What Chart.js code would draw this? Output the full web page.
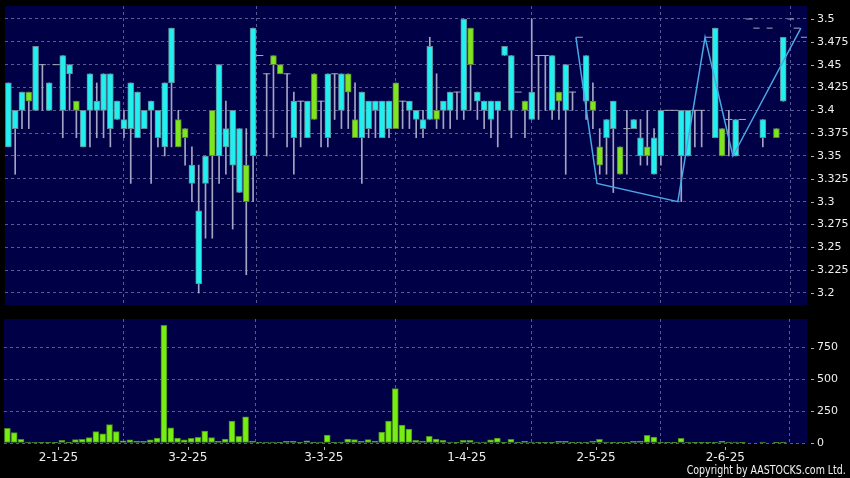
<!DOCTYPE html>
<html><head><meta charset="utf-8">
<script src="https://cdn.jsdelivr.net/npm/chart.js@4.4.1/dist/chart.umd.min.js"></script>
<style>
html,body{margin:0;padding:0;background:#000;width:850px;height:478px;overflow:hidden;}
#main{position:absolute;left:0;top:0;}
#vol{position:absolute;left:0;top:312px;}
#copy{position:absolute;right:4px;top:463px;color:#f2f2f2;font-family:"DejaVu Sans Condensed","DejaVu Sans",sans-serif;font-size:12px;line-height:14px;white-space:nowrap;transform:scaleX(0.875);transform-origin:right top;}
</style></head><body>
<canvas id="main" width="850" height="312"></canvas>
<canvas id="vol" width="850" height="166"></canvas>
<div id="copy">Copyright by AASTOCKS.com Ltd.</div>
<script>
// ---------- data ----------
const dates = [
 '18-12-24','19-12-24','20-12-24','23-12-24','24-12-24','27-12-24','30-12-24','31-12-24',
 '2-1-25','3-1-25','6-1-25','7-1-25','8-1-25','9-1-25','10-1-25','13-1-25','14-1-25','15-1-25','16-1-25','17-1-25','20-1-25','21-1-25','22-1-25','23-1-25','24-1-25','27-1-25','28-1-25',
 '3-2-25','4-2-25','5-2-25','6-2-25','7-2-25','10-2-25','11-2-25','12-2-25','13-2-25','14-2-25','17-2-25','18-2-25','19-2-25','20-2-25','21-2-25','24-2-25','25-2-25','26-2-25','27-2-25','28-2-25',
 '3-3-25','4-3-25','5-3-25','6-3-25','7-3-25','10-3-25','11-3-25','12-3-25','13-3-25','14-3-25','17-3-25','18-3-25','19-3-25','20-3-25','21-3-25','24-3-25','25-3-25','26-3-25','27-3-25','28-3-25','31-3-25',
 '1-4-25','2-4-25','3-4-25','7-4-25','8-4-25','9-4-25','10-4-25','11-4-25','14-4-25','15-4-25','16-4-25','17-4-25','22-4-25','23-4-25','24-4-25','25-4-25','28-4-25','29-4-25','30-4-25',
 '2-5-25','6-5-25','7-5-25','8-5-25','9-5-25','12-5-25','13-5-25','14-5-25','15-5-25','16-5-25','19-5-25','20-5-25','21-5-25','22-5-25','23-5-25','26-5-25','27-5-25','28-5-25','29-5-25',
 '2-6-25','3-6-25','4-6-25','5-6-25','6-6-25','9-6-25','10-6-25','11-6-25','12-6-25'
];
const open = [
 3.36,3.38,3.40,3.42,3.40,3.45,3.40,3.45,3.40,3.44,
 3.41,3.36,3.40,3.40,3.40,3.38,3.39,3.38,3.38,3.37,
 3.38,3.40,3.37,3.36,3.43,3.39,3.38,3.32,3.21,3.32,
 3.40,3.35,3.36,3.34,3.31,3.34,3.35,3.46,3.44,3.46,
 3.45,3.44,3.37,3.41,3.37,3.44,3.41,3.37,3.44,3.40,
 3.44,3.39,3.37,3.38,3.40,3.37,3.38,3.43,3.41,3.40,
 3.39,3.38,3.39,3.40,3.40,3.40,3.42,3.40,3.49,3.41,
 3.40,3.39,3.40,3.46,3.40,3.42,3.41,3.39,3.46,3.46,
 3.40,3.42,3.40,3.42,3.48,3.41,3.41,3.36,3.37,3.38,
 3.36,3.38,3.38,3.35,3.36,3.33,3.35,3.40,3.40,3.35,
 3.35,3.40,3.40,3.48,3.37,3.38,3.39,3.35,3.39,null,
 null,3.37,null,3.38,3.41
];
const high = [
 3.43,3.40,3.42,3.42,3.47,3.45,3.43,3.45,3.46,3.45,
 3.41,3.40,3.44,3.43,3.44,3.44,3.41,3.40,3.43,3.42,
 3.40,3.41,3.40,3.43,3.49,3.40,3.38,3.36,3.34,3.35,
 3.40,3.45,3.41,3.40,3.38,3.38,3.49,3.46,3.44,3.46,
 3.45,3.44,3.42,3.41,3.41,3.44,3.41,3.44,3.44,3.44,
 3.44,3.43,3.42,3.41,3.41,3.41,3.41,3.43,3.41,3.41,
 3.40,3.40,3.48,3.44,3.41,3.42,3.42,3.50,3.49,3.42,
 3.41,3.41,3.41,3.47,3.46,3.42,3.41,3.50,3.46,3.46,
 3.46,3.42,3.45,3.42,3.48,3.46,3.43,3.38,3.39,3.41,
 3.36,3.40,3.39,3.39,3.40,3.38,3.40,3.40,3.40,3.40,
 3.40,3.40,3.40,3.48,3.49,3.38,3.40,3.39,3.39,null,
 null,3.39,null,3.38,3.48
];
const low = [
 3.36,3.33,3.38,3.38,3.40,3.40,3.40,3.45,3.37,3.40,
 3.37,3.36,3.36,3.37,3.37,3.36,3.39,3.37,3.32,3.37,
 3.38,3.32,3.36,3.35,3.36,3.36,3.34,3.30,3.20,3.26,
 3.26,3.32,3.33,3.27,3.31,3.22,3.30,3.46,3.35,3.37,
 3.44,3.36,3.33,3.36,3.37,3.39,3.36,3.36,3.39,3.38,
 3.38,3.37,3.32,3.37,3.37,3.37,3.37,3.38,3.38,3.38,
 3.37,3.37,3.39,3.38,3.38,3.38,3.39,3.39,3.40,3.39,
 3.38,3.37,3.36,3.46,3.37,3.42,3.37,3.39,3.39,3.40,
 3.39,3.39,3.33,3.40,3.48,3.39,3.38,3.33,3.33,3.31,
 3.33,3.33,3.38,3.34,3.34,3.33,3.34,3.40,3.40,3.30,
 3.35,3.36,3.36,3.48,3.37,3.35,3.35,3.35,3.39,null,
 null,3.36,null,3.37,3.41
];
const close = [
 3.43,3.40,3.42,3.41,3.47,3.45,3.43,3.45,3.46,3.45,
 3.40,3.40,3.44,3.41,3.44,3.44,3.41,3.39,3.43,3.42,
 3.40,3.41,3.40,3.43,3.49,3.36,3.37,3.34,3.29,3.35,
 3.35,3.45,3.38,3.40,3.38,3.30,3.49,3.46,3.44,3.45,
 3.44,3.44,3.41,3.41,3.41,3.39,3.41,3.44,3.44,3.44,
 3.42,3.37,3.42,3.41,3.41,3.41,3.41,3.38,3.41,3.41,
 3.40,3.39,3.47,3.39,3.41,3.42,3.42,3.50,3.45,3.42,
 3.41,3.41,3.41,3.47,3.46,3.42,3.40,3.42,3.46,3.46,
 3.46,3.41,3.45,3.42,3.48,3.46,3.40,3.34,3.39,3.41,
 3.33,3.38,3.39,3.37,3.35,3.37,3.40,3.40,3.40,3.40,
 3.40,3.40,3.40,3.48,3.49,3.35,3.39,3.39,3.39,null,
 null,3.39,null,3.37,3.48
];
const volume = [
 115,81,29,8,8,2,2,1,21,5,
 26,29,42,89,73,144,89,18,24,16,
 13,24,39,925,120,39,24,37,44,94,
 42,13,31,172,52,206,16,1,8,8,
 3,13,13,3,18,1,8,63,3,8,
 31,26,13,26,16,86,172,428,141,110,
 21,16,52,31,21,8,3,21,21,8,
 8,24,39,1,29,1,13,8,1,1,
 2,13,13,5,1,5,16,29,8,5,
 5,1,13,16,60,47,5,1,1,37,
 8,1,1,1,3,13,8,8,1,0,
 0,8,0,5,2
];
const priceTicks = [3.2,3.225,3.25,3.275,3.3,3.325,3.35,3.375,3.4,3.425,3.45,3.475,3.5];
const volumeTicks = [0,250,500,750];
const monthLabels = ['2-1-25','3-2-25','3-3-25','1-4-25','2-5-25','2-6-25'];
// drawn overlay line (index units / price)
const zigzagX = [83.5,86.6,98.5,102.5,106.6,116.6];
const zigzagY = [3.48,3.32,3.30,3.48,3.35,3.49];
const refLineA = {x:[108.5,115.6], y:3.50};
const refLineB = {x:[109.6,116.6], y:3.49};
const refLineC = {x:[116.6,117.5], y:3.48};

// ---------- styles ----------
const NAVY = '#000046';
const GRID = 'rgba(105,105,165,0.85)';
const CYAN = '#22f0f0', CYAN_EDGE = '#5c8c98';
const GREEN = '#7ee61e', GREEN_EDGE = '#5d7d3d';
const WICK = '#a4a4c4';
const DASH = '#a8a8b8';
const ZIG = '#4aa6e6';
const VOL = '#77ee11', VOL_EDGE = '#4a8a1c';
const TXT = '#eeeeee';
const FONT = 'DejaVu Sans';

const idx = dates.map((d, i) => i);
const monthTickValues = monthLabels.map(l => dates.indexOf(l) - 0.5);
const X_MIN = -0.5, X_MAX = 117.5;

const decor = {
  id: 'decor',
  beforeDraw(chart) {
    const {ctx, chartArea: a} = chart;
    ctx.save(); ctx.fillStyle = NAVY;
    ctx.fillRect(a.left, a.top, a.right - a.left, a.bottom - a.top);
    ctx.restore();
  },
  afterDraw(chart, args, opts) {
    const {ctx, chartArea: a, scales} = chart;
    ctx.save(); ctx.strokeStyle = '#b0b0b0'; ctx.lineWidth = 1; ctx.beginPath();
    scales.y.ticks.forEach(t => {
      const y = Math.round(scales.y.getPixelForValue(t.value)) + 0.5;
      ctx.moveTo(a.right + 4, y); ctx.lineTo(a.right + 7, y);
    });
    if (opts.xMarks) scales.x.ticks.forEach(t => {
      const x = Math.round(scales.x.getPixelForValue(t.value)) + 0.5;
      ctx.moveTo(x, a.bottom + 4); ctx.lineTo(x, a.bottom + 7);
    });
    ctx.stroke(); ctx.restore();
  }
};

const noPad = s => { s.paddingTop = 0; s.paddingBottom = 0; s.paddingLeft = 0; s.paddingRight = 0; };
const xBase = (showLabels, height) => ({
  type: 'linear', min: X_MIN, max: X_MAX, offset: false,
  afterBuildTicks: s => { s.ticks = monthTickValues.map(v => ({value: v})); },
  afterFit: s => { s.height = height; noPad(s); },
  grid: {color: GRID, drawTicks: false, lineWidth: 1},
  border: {display: false, dash: [3, 3]},
  ticks: {display: showLabels, autoSkip: false, maxRotation: 0, padding: 8, color: TXT,
    font: {family: FONT, size: 12}, callback: (v, i) => monthLabels[i]}
});
const yBase = (min, max, tickList, fmt) => ({
  position: 'right', min, max,
  afterBuildTicks: s => { s.ticks = tickList.map(v => ({value: v})); },
  afterFit: s => { s.width = 43; noPad(s); },
  grid: {color: GRID, drawTicks: false, lineWidth: 1},
  border: {display: false, dash: [3, 3]},
  ticks: {padding: 10, color: TXT, font: {family: FONT, size: 11, lineHeight: 1}, callback: fmt}
});

const wickData = idx.filter(i => high[i] != null && high[i] > low[i]).map(i => ({x: i, y: [low[i], high[i]]}));
const bodyData = idx.filter(i => open[i] != null && open[i] !== close[i]).map(i => ({x: i, y: [open[i], close[i]]}));
const dashData = idx.filter(i => open[i] != null && open[i] === close[i]).map(i => ({x: i, y: open[i]}));
const volData = idx.filter(i => volume[i] > 0).map(i => ({x: i, y: volume[i]}));
const isUp = c => c.raw && c.raw.y[1] > c.raw.y[0];

new Chart(document.getElementById('main'), {
  type: 'bar',
  data: {datasets: [
    {type: 'line', data: zigzagX.map((x, k) => ({x, y: zigzagY[k]})), borderColor: ZIG, borderWidth: 1.5, pointRadius: 0, tension: 0, order: 1},
    {type: 'line', data: refLineA.x.map(x => ({x, y: refLineA.y})), borderColor: DASH, borderWidth: 1, borderDash: [7, 34.7], pointRadius: 0, order: 1},
    {type: 'line', data: refLineB.x.map(x => ({x, y: refLineB.y})), borderColor: DASH, borderWidth: 1, borderDash: [6.3, 7, 6, 21], pointRadius: 0, order: 1},
    {type: 'line', data: refLineC.x.map(x => ({x, y: refLineC.y})), borderColor: DASH, borderWidth: 1, pointRadius: 0, order: 1},
    {type: 'line', data: dashData, showLine: false, pointStyle: 'line', pointRadius: 3.5, pointBorderColor: DASH, pointBorderWidth: 1, order: 2},
    {data: bodyData, barThickness: 6, grouped: false, borderSkipped: false, borderWidth: 1,
     backgroundColor: c => isUp(c) ? CYAN : GREEN, borderColor: c => isUp(c) ? CYAN_EDGE : GREEN_EDGE, order: 3},
    {data: wickData, barThickness: 1, grouped: false, borderWidth: 0, backgroundColor: WICK, order: 4}
  ]},
  options: {
    responsive: false, animation: false, devicePixelRatio: 1,
    layout: {padding: {left: 4, top: 6, right: 0, bottom: 0}},
    plugins: {legend: {display: false}, tooltip: {enabled: false}, decor: {xMarks: false}},
    scales: {
      x: xBase(false, 7),
      y: yBase(3.18686, 3.51423, priceTicks, v => String(+v.toFixed(3)))
    }
  },
  plugins: [decor]
});

new Chart(document.getElementById('vol'), {
  type: 'bar',
  data: {datasets: [
    {data: volData, barThickness: 6, grouped: false, borderSkipped: false, borderWidth: 1, backgroundColor: VOL, borderColor: VOL_EDGE}
  ]},
  options: {
    responsive: false, animation: false, devicePixelRatio: 1,
    layout: {padding: {left: 4, top: 7, right: 0, bottom: 0}},
    plugins: {legend: {display: false}, tooltip: {enabled: false}, decor: {xMarks: true}},
    scales: {
      x: xBase(true, 35),
      y: yBase(0, 975, volumeTicks, v => String(v))
    }
  },
  plugins: [decor]
});
</script></body></html>
